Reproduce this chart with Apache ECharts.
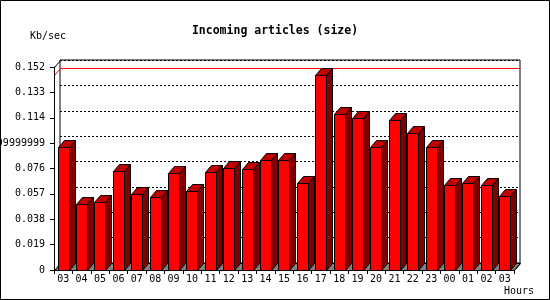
<!DOCTYPE html>
<html>
<head>
<meta charset="utf-8">
<script src="https://cdn.jsdelivr.net/npm/echarts@6/dist/echarts.min.js"></script>
<style>
html,body{margin:0;padding:0;background:#fff;}
#chart{width:550px;height:300px;}
</style>
</head>
<body>
<div id="chart"></div>
<script>
const categories = ['03','04','05','06','07','08','09','10','11','12','13','14','15','16','17','18','19','20','21','22','23','00','01','02','03'];
const values = [0.0918,0.0493,0.0508,0.0738,0.0568,0.0546,0.0723,0.0591,0.0733,0.0761,0.0756,0.0823,0.0823,0.0651,0.1462,0.1169,0.1139,0.0918,0.1124,0.1026,0.0918,0.0636,0.0651,0.0636,0.0553];
const yTickLabels = ['0','0.019','0.038','0.057','0.076','0.09499999999999999','0.114','0.133','0.152'];
const yMin = 0, yMax = 0.152, yStep = 0.019;

const DX = 6, DY = 7;
const FONT = 'DejaVu Sans Mono';
const maxVal = Math.max.apply(null, values);

const chart = echarts.init(document.getElementById('chart'), null, {renderer: 'canvas'});

function barItem(params, api) {
  const idx = api.value(0);
  const v = api.value(1);
  const top = api.coord([idx, v]);
  const base = api.coord([idx, 0]);
  const band = api.size([1, 0])[0];
  const w = Math.round(band * 0.6);
  const x0 = Math.round(top[0] - band / 2 + band * 0.195);
  const yT = Math.round(top[1]);
  const y0 = Math.round(base[1]);
  const st = {stroke: '#000', lineWidth: 1};
  return {
    type: 'group',
    children: [
      {type: 'polygon', shape: {points: [[x0 + w + 0.5, yT + 0.5], [x0 + w + DX + 0.5, yT - DY + 0.5], [x0 + w + DX + 0.5, y0 - DY + 0.5], [x0 + w + 0.5, y0 + 0.5]]},
        style: Object.assign({fill: '#800000'}, st)},
      {type: 'polygon', shape: {points: [[x0 + 0.5, yT + 0.5], [x0 + DX + 0.5, yT - DY + 0.5], [x0 + w + DX + 0.5, yT - DY + 0.5], [x0 + w + 0.5, yT + 0.5]]},
        style: Object.assign({fill: '#C00000'}, st)},
      {type: 'rect', shape: {x: x0 + 0.5, y: yT + 0.5, width: w, height: y0 - yT},
        style: Object.assign({fill: '#FF0000'}, st)}
    ]
  };
}

function floorItem(params, api) {
  const cs = params.coordSys;
  const xl = cs.x, xr = cs.x + cs.width, yb = cs.y + cs.height;
  return {
    type: 'polygon',
    shape: {points: [[xl + 0.5, yb + 0.5], [xl + DX + 0.5, yb - DY + 0.5], [xr + DX + 0.5, yb - DY + 0.5], [xr + 0.5, yb + 0.5]]},
    style: {fill: '#808080', stroke: '#000', lineWidth: 1}
  };
}

function maxLineItem(params, api) {
  const cs = params.coordSys;
  const p = api.coord([api.value(0), api.value(1)]);
  const yF = Math.round(p[1]) + 0.5;
  const xl = cs.x + 0.5, xr = cs.x + cs.width;
  return {
    type: 'polyline',
    shape: {points: [[xl, yF], [xl + DX, yF - DY], [xr + DX, yF - DY]]},
    style: {stroke: '#FF0000', lineWidth: 1, fill: null}
  };
}

function edgeItem(params, api) {
  const cs = params.coordSys;
  const xl = cs.x + 0.5, xr = cs.x + cs.width + 0.5, yt = cs.y + 0.5, yb = cs.y + cs.height + 0.5;
  return {
    type: 'group',
    children: [
      {type: 'line', shape: {x1: xl, y1: yt, x2: xl + DX, y2: yt - DY}, style: {stroke: '#000', lineWidth: 1}},
      {type: 'line', shape: {x1: xr, y1: yb, x2: xr + DX, y2: yb - DY}, style: {stroke: '#000', lineWidth: 1}}
    ]
  };
}

const option = {
  backgroundColor: '#fff',
  animation: false,
  title: {
    text: 'Incoming articles (size)',
    left: 'center',
    top: 20,
    textStyle: {fontFamily: FONT, fontWeight: 'bold', fontSize: 11.5, color: '#000'}
  },
  grid: [
    {left: 54, right: 36, top: 67, bottom: 30, containLabel: false, outerBoundsMode: 'none', show: false},
    {left: 60, right: 30, top: 60, bottom: 37, containLabel: false, outerBoundsMode: 'none', show: true,
      backgroundColor: '#fff', borderColor: '#000', borderWidth: 1}
  ],
  xAxis: [
    {type: 'category', gridIndex: 0, data: categories, boundaryGap: true, z: 5,
      axisLine: {show: true, lineStyle: {color: '#000', width: 1}},
      axisTick: {show: true, alignWithLabel: false, interval: 0, length: 4, inside: false, lineStyle: {color: '#000'}},
      axisLabel: {interval: 0, margin: 4, color: '#000', fontFamily: FONT, fontSize: 10},
      splitLine: {show: false}},
    {type: 'category', gridIndex: 1, data: categories, boundaryGap: true, show: false}
  ],
  yAxis: [
    {type: 'value', gridIndex: 0, min: yMin, max: yMax, interval: yStep, z: 5,
      axisLine: {show: true, lineStyle: {color: '#000', width: 1}},
      axisTick: {show: true, length: 4, inside: false, lineStyle: {color: '#000'}},
      axisLabel: {margin: 9, color: '#000', fontFamily: FONT, fontSize: 10, hideOverlap: false,
        formatter: function (v) { return yTickLabels[Math.round((v - yMin) / yStep)]; }},
      splitLine: {show: false}},
    {type: 'value', gridIndex: 1, min: yMin, max: yMax, interval: yStep,
      axisLine: {show: false}, axisTick: {show: false}, axisLabel: {show: false},
      splitLine: {show: true, lineStyle: {color: '#000', width: 1, type: [2, 2]}}}
  ],
  series: [
    {type: 'custom', name: 'floor', xAxisIndex: 0, yAxisIndex: 0, z: 2, renderItem: floorItem, data: [[0, 0]], silent: true},
    {type: 'custom', name: 'max', xAxisIndex: 0, yAxisIndex: 0, z: 3, renderItem: maxLineItem,
      encode: {x: 0, y: 1}, data: [[0, maxVal]], silent: true},
    {type: 'custom', name: 'Incoming articles', xAxisIndex: 0, yAxisIndex: 0, z: 4, renderItem: barItem,
      encode: {x: 0, y: 1}, data: values.map(function (v, i) { return [i, v]; })},
    {type: 'custom', name: 'edges', xAxisIndex: 0, yAxisIndex: 0, z: 5, renderItem: edgeItem, data: [[0, 0]], silent: true}
  ],
  graphic: [
    {type: 'text', left: 30, top: 31, style: {text: 'Kb/sec', fontFamily: FONT, fontSize: 10, fill: '#000'}},
    {type: 'text', left: 504, top: 286, style: {text: 'Hours', fontFamily: FONT, fontSize: 10, fill: '#000'}},
    {type: 'rect', shape: {x: 0.5, y: 0.5, width: 549, height: 299}, style: {fill: null, stroke: '#000', lineWidth: 1}, z: 100}
  ]
};
chart.setOption(option);
</script>
</body>
</html>
